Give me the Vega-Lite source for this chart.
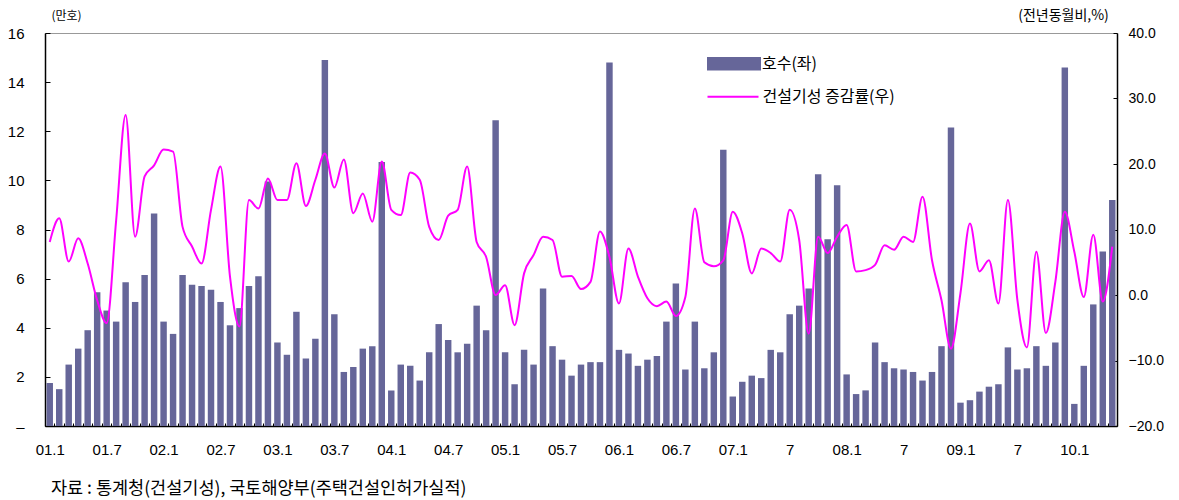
{
  "$schema": "https://vega.github.io/schema/vega-lite/v6.json",
  "width": 1072,
  "height": 393,
  "autosize": {"type": "none"},
  "padding": {"left": 45, "top": 33, "right": 62, "bottom": 74},
  "background": "#ffffff",
  "title": {
    "text": "자료 : 통계청(건설기성), 국토해양부(주택건설인허가실적)",
    "orient": "bottom",
    "anchor": "start",
    "frame": "group",
    "font": "Noto Sans CJK KR",
    "fontSize": 17.5,
    "fontWeight": "normal",
    "color": "#000000",
    "offset": 23,
    "dx": 6
  },
  "data": {
    "values": [
      {"t": "2001-01", "units": 1.75, "rate": 8.1},
      {"t": "2001-02", "units": 1.5, "rate": 11.7},
      {"t": "2001-03", "units": 2.5, "rate": 5.1},
      {"t": "2001-04", "units": 3.15, "rate": 8.65},
      {"t": "2001-05", "units": 3.9, "rate": 4.8},
      {"t": "2001-06", "units": 5.45, "rate": -0.8},
      {"t": "2001-07", "units": 4.7, "rate": -4.3},
      {"t": "2001-08", "units": 4.25, "rate": 11.4},
      {"t": "2001-09", "units": 5.85, "rate": 27.5},
      {"t": "2001-10", "units": 5.05, "rate": 8.9},
      {"t": "2001-11", "units": 6.15, "rate": 18.1},
      {"t": "2001-12", "units": 8.65, "rate": 19.8},
      {"t": "2002-01", "units": 4.25, "rate": 22.2},
      {"t": "2002-02", "units": 3.75, "rate": 21.9},
      {"t": "2002-03", "units": 6.15, "rate": 10.4},
      {"t": "2002-04", "units": 5.75, "rate": 7.4},
      {"t": "2002-05", "units": 5.7, "rate": 4.8},
      {"t": "2002-06", "units": 5.55, "rate": 13.0},
      {"t": "2002-07", "units": 5.05, "rate": 19.6},
      {"t": "2002-08", "units": 4.1, "rate": 2.8},
      {"t": "2002-09", "units": 4.8, "rate": -4.8},
      {"t": "2002-10", "units": 5.7, "rate": 14.5},
      {"t": "2002-11", "units": 6.1, "rate": 13.2},
      {"t": "2002-12", "units": 9.95, "rate": 17.8},
      {"t": "2003-01", "units": 3.4, "rate": 14.5},
      {"t": "2003-02", "units": 2.9, "rate": 14.5},
      {"t": "2003-03", "units": 4.65, "rate": 20.1},
      {"t": "2003-04", "units": 2.75, "rate": 13.6},
      {"t": "2003-05", "units": 3.55, "rate": 17.6},
      {"t": "2003-06", "units": 14.9, "rate": 21.6},
      {"t": "2003-07", "units": 4.55, "rate": 16.4},
      {"t": "2003-08", "units": 2.2, "rate": 20.7},
      {"t": "2003-09", "units": 2.4, "rate": 12.5},
      {"t": "2003-10", "units": 3.15, "rate": 15.5},
      {"t": "2003-11", "units": 3.25, "rate": 11.2},
      {"t": "2003-12", "units": 10.75, "rate": 20.4},
      {"t": "2004-01", "units": 1.45, "rate": 13.0},
      {"t": "2004-02", "units": 2.5, "rate": 12.2},
      {"t": "2004-03", "units": 2.45, "rate": 18.7},
      {"t": "2004-04", "units": 1.85, "rate": 17.6},
      {"t": "2004-05", "units": 3.0, "rate": 10.4},
      {"t": "2004-06", "units": 4.15, "rate": 8.4},
      {"t": "2004-07", "units": 3.5, "rate": 12.1},
      {"t": "2004-08", "units": 3.0, "rate": 13.0},
      {"t": "2004-09", "units": 3.35, "rate": 19.6},
      {"t": "2004-10", "units": 4.9, "rate": 8.1},
      {"t": "2004-11", "units": 3.9, "rate": 5.8},
      {"t": "2004-12", "units": 12.45, "rate": 0.0},
      {"t": "2005-01", "units": 3.0, "rate": 1.5},
      {"t": "2005-02", "units": 1.7, "rate": -4.6},
      {"t": "2005-03", "units": 3.1, "rate": 3.3},
      {"t": "2005-04", "units": 2.5, "rate": 6.1},
      {"t": "2005-05", "units": 5.6, "rate": 8.9},
      {"t": "2005-06", "units": 3.25, "rate": 8.4},
      {"t": "2005-07", "units": 2.7, "rate": 2.8},
      {"t": "2005-08", "units": 2.05, "rate": 2.9},
      {"t": "2005-09", "units": 2.5, "rate": 0.9},
      {"t": "2005-10", "units": 2.6, "rate": 2.0},
      {"t": "2005-11", "units": 2.6, "rate": 9.7},
      {"t": "2005-12", "units": 14.8, "rate": 5.8},
      {"t": "2006-01", "units": 3.1, "rate": -1.3},
      {"t": "2006-02", "units": 2.95, "rate": 7.1},
      {"t": "2006-03", "units": 2.45, "rate": 2.8},
      {"t": "2006-04", "units": 2.7, "rate": -0.5},
      {"t": "2006-05", "units": 2.85, "rate": -1.7},
      {"t": "2006-06", "units": 4.25, "rate": -1.0},
      {"t": "2006-07", "units": 5.8, "rate": -3.2},
      {"t": "2006-08", "units": 2.3, "rate": -0.3},
      {"t": "2006-09", "units": 4.25, "rate": 13.2},
      {"t": "2006-10", "units": 2.35, "rate": 5.0},
      {"t": "2006-11", "units": 3.0, "rate": 4.4},
      {"t": "2006-12", "units": 11.25, "rate": 5.3},
      {"t": "2007-01", "units": 1.2, "rate": 12.7},
      {"t": "2007-02", "units": 1.8, "rate": 9.4},
      {"t": "2007-03", "units": 2.05, "rate": 3.3},
      {"t": "2007-04", "units": 1.95, "rate": 7.1},
      {"t": "2007-05", "units": 3.1, "rate": 6.4},
      {"t": "2007-06", "units": 3.0, "rate": 5.1},
      {"t": "2007-07", "units": 4.55, "rate": 13.0},
      {"t": "2007-08", "units": 4.9, "rate": 8.4},
      {"t": "2007-09", "units": 5.6, "rate": -5.9},
      {"t": "2007-10", "units": 10.25, "rate": 8.9},
      {"t": "2007-11", "units": 7.6, "rate": 6.4},
      {"t": "2007-12", "units": 9.8, "rate": 8.9},
      {"t": "2008-01", "units": 2.1, "rate": 10.7},
      {"t": "2008-02", "units": 1.3, "rate": 3.6},
      {"t": "2008-03", "units": 1.45, "rate": 3.8},
      {"t": "2008-04", "units": 3.4, "rate": 4.6},
      {"t": "2008-05", "units": 2.6, "rate": 7.6},
      {"t": "2008-06", "units": 2.35, "rate": 6.9},
      {"t": "2008-07", "units": 2.3, "rate": 8.9},
      {"t": "2008-08", "units": 2.2, "rate": 8.1},
      {"t": "2008-09", "units": 1.85, "rate": 15.0},
      {"t": "2008-10", "units": 2.2, "rate": 5.3},
      {"t": "2008-11", "units": 3.25, "rate": -0.8},
      {"t": "2008-12", "units": 12.15, "rate": -8.2},
      {"t": "2009-01", "units": 0.95, "rate": 0.3},
      {"t": "2009-02", "units": 1.05, "rate": 10.9},
      {"t": "2009-03", "units": 1.4, "rate": 3.6},
      {"t": "2009-04", "units": 1.6, "rate": 5.3},
      {"t": "2009-05", "units": 1.7, "rate": -1.3},
      {"t": "2009-06", "units": 3.2, "rate": 14.5},
      {"t": "2009-07", "units": 2.3, "rate": -0.8},
      {"t": "2009-08", "units": 2.35, "rate": -8.0},
      {"t": "2009-09", "units": 3.25, "rate": 6.6},
      {"t": "2009-10", "units": 2.45, "rate": -5.8},
      {"t": "2009-11", "units": 3.4, "rate": 2.0},
      {"t": "2009-12", "units": 14.6, "rate": 12.7},
      {"t": "2010-01", "units": 0.9, "rate": 6.6},
      {"t": "2010-02", "units": 2.45, "rate": -0.3},
      {"t": "2010-03", "units": 4.95, "rate": 9.2},
      {"t": "2010-04", "units": 7.1, "rate": -1.0},
      {"t": "2010-05", "units": 9.2, "rate": 7.4}
    ]
  },
  "encoding": {
    "x": {
      "field": "t",
      "type": "ordinal",
      "scale": {"paddingInner": 0.32, "paddingOuter": 0.16},
      "axis": {
        "title": null,
        "labelAngle": 0,
        "labelOverlap": false,
        "labelFont": "Liberation Sans",
        "labelFontSize": 15,
        "labelColor": "#000000",
        "labelExpr": "substring(datum.value,5,7) == '01' ? substring(datum.value,2,4) + '.1' : (substring(datum.value,5,7) == '07' ? (datum.value >= '2007' ? '7' : substring(datum.value,2,4) + '.7') : '')",
        "tickOffset": -4.744,
        "labelOffset": 4.744,
        "tickSize": -3,
        "tickColor": "#000000",
        "labelPadding": 19,
        "domainColor": "#000000",
        "domainWidth": 1.5
      }
    }
  },
  "layer": [
    {
      "mark": {"type": "bar"},
      "encoding": {
        "y": {
          "field": "units",
          "type": "quantitative",
          "scale": {"domain": [0, 16], "nice": false},
          "axis": {
            "values": [0, 2, 4, 6, 8, 10, 12, 14, 16],
            "labelExpr": "datum.value === 0 ? '–' : datum.label",
            "labelFont": "Liberation Sans",
            "labelFontSize": 15,
            "labelColor": "#000000",
            "tickSize": -5,
            "tickColor": "#000000",
            "labelPadding": 26,
            "domainColor": "#000000",
            "domainWidth": 1.5,
            "title": "(만호)",
            "titleFont": "Noto Sans CJK KR",
            "titleFontSize": 12,
            "titleFontWeight": "normal",
            "titleColor": "#000000",
            "titleAngle": 0,
            "titleAlign": "center",
            "titleBaseline": "middle",
            "titleX": 21,
            "titleY": -18
          }
        },
        "fill": {
          "datum": "호수(좌)",
          "type": "nominal",
          "scale": {"range": ["#666699"]},
          "legend": {
            "orient": "none",
            "legendX": 662,
            "legendY": 3.8,
            "title": null,
            "padding": 0,
            "symbolType": "M-1,-0.25H1V0.25H-1Z",
            "symbolSize": 2916,
            "symbolStrokeWidth": 0,
            "symbolOpacity": 1,
            "labelFont": "Noto Sans CJK KR",
            "labelFontSize": 16,
            "labelColor": "#000000",
            "labelOffset": 1
          }
        }
      }
    },
    {
      "mark": {"type": "line", "strokeWidth": 2, "interpolate": "monotone"},
      "encoding": {
        "y": {
          "field": "rate",
          "type": "quantitative",
          "scale": {"domain": [-20, 40], "nice": false, "zero": false},
          "axis": {
            "orient": "right",
            "values": [-20, -10, 0, 10, 20, 30, 40],
            "format": ".1f",
            "labelFont": "Liberation Sans",
            "labelFontSize": 14,
            "labelColor": "#000000",
            "tickSize": -4,
            "tickColor": "#000000",
            "labelPadding": 15,
            "domainColor": "#000000",
            "domainWidth": 1.5,
            "title": "(전년동월비,%)",
            "titleFont": "Noto Sans CJK KR",
            "titleFontSize": 14,
            "titleFontWeight": "normal",
            "titleColor": "#000000",
            "titleAngle": 0,
            "titleAlign": "center",
            "titleBaseline": "middle",
            "titleX": -54,
            "titleY": -18
          }
        },
        "stroke": {
          "datum": "건설기성 증감률(우)",
          "type": "nominal",
          "scale": {"range": ["#ff00ff"]},
          "legend": {
            "orient": "none",
            "legendX": 661.5,
            "legendY": 37.2,
            "title": null,
            "padding": 0,
            "symbolType": "stroke",
            "symbolSize": 2601,
            "symbolStrokeWidth": 2,
            "labelFont": "Noto Sans CJK KR",
            "labelFontSize": 16,
            "labelColor": "#000000",
            "labelOffset": 3
          }
        }
      }
    }
  ],
  "resolve": {"scale": {"y": "independent"}},
  "config": {
    "view": {"stroke": "#999999", "strokeWidth": 1},
    "axis": {"grid": false}
  }
}
